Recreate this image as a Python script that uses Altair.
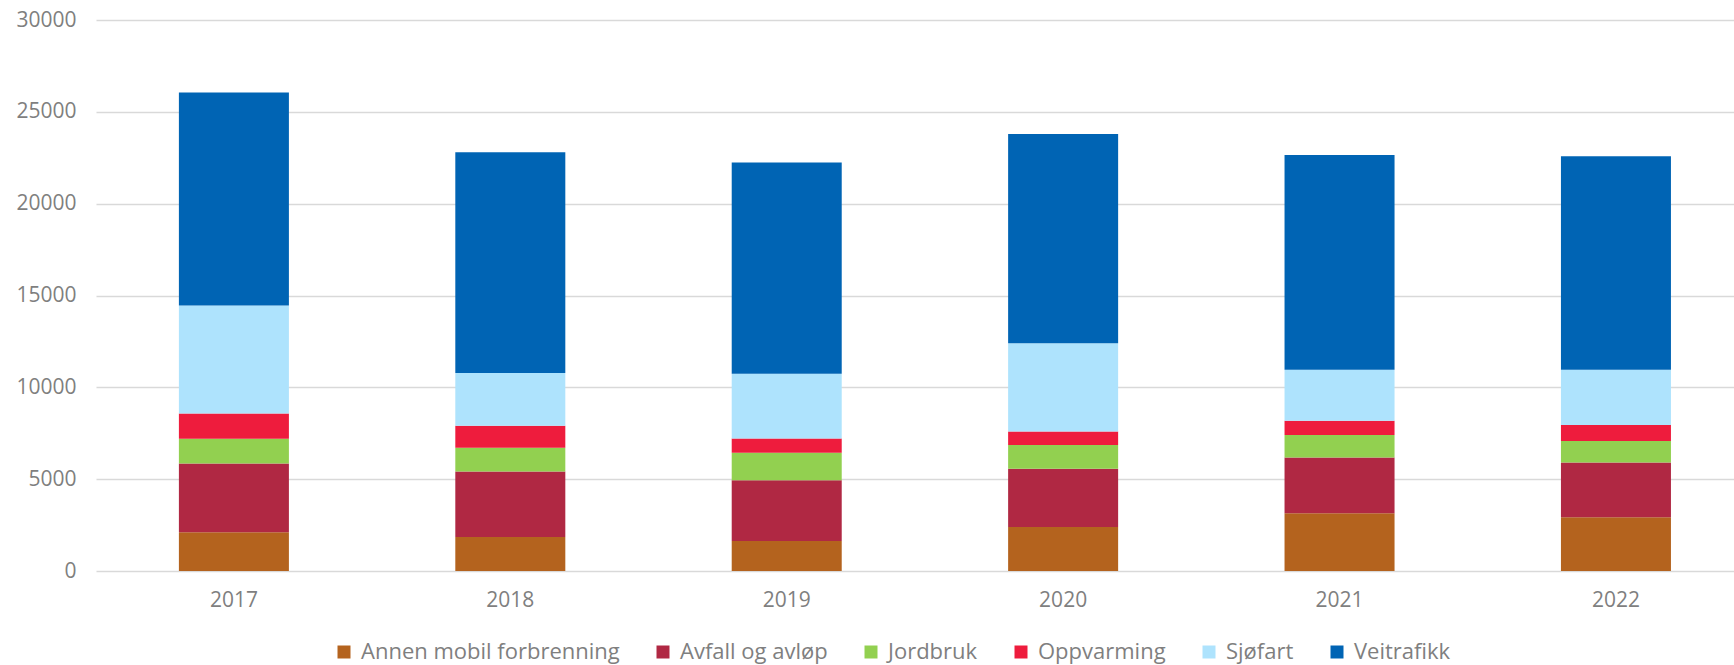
import altair as alt
import pandas as pd

years = ["2017", "2018", "2019", "2020", "2021", "2022"]
categories = ["Annen mobil forbrenning", "Avfall og avløp", "Jordbruk",
              "Oppvarming", "Sjøfart", "Veitrafikk"]
colors = ["#B4631E", "#B02843", "#92D050", "#EE1C3D", "#AEE3FD", "#0064B4"]

annen = [2110, 1855, 1636, 2400, 3145, 2927]
avfall = [3745, 3563, 3309, 3163, 3036, 2982]
jordbruk = [1345, 1291, 1491, 1291, 1219, 1163]
oppvarming = [1382, 1200, 782, 746, 781, 873]
sjofart = [5873, 2873, 3527, 4800, 2782, 3018]
veitrafikk = [11599, 12018, 11491, 11398, 11689, 11617]

series = [annen, avfall, jordbruk, oppvarming, sjofart, veitrafikk]
rows = []
for ci, (cat, vals) in enumerate(zip(categories, series)):
    for y, v in zip(years, vals):
        rows.append({"year": y, "category": cat, "value": v, "idx": ci})
df = pd.DataFrame(rows)

FONT = "Open Sans"
GRAY = "#7f7f7f"

chart = alt.Chart(df).mark_bar().encode(
    x=alt.X("year:N", title=None,
            scale=alt.Scale(paddingInner=0.602, paddingOuter=0.264, align=0.568),
            axis=alt.Axis(labelAngle=0, domain=False, ticks=False, grid=False,
                          labelFont=FONT, labelFontSize=21, labelColor=GRAY,
                          labelPadding=18)),
    y=alt.Y("value:Q", title=None, stack="zero",
            scale=alt.Scale(domain=[0, 30000], nice=False),
            axis=alt.Axis(values=[0, 5000, 10000, 15000, 20000, 25000, 30000],
                          format="d", domain=False, ticks=False,
                          gridColor="#d9d9d9", gridWidth=1.5,
                          labelFont=FONT, labelFontSize=21, labelColor=GRAY,
                          labelPadding=20)),
    color=alt.Color("category:N",
                    scale=alt.Scale(domain=categories, range=colors),
                    legend=alt.Legend(title=None, orient="none", direction="horizontal",
                                      legendX=237, legendY=621,
                                      symbolType="square", symbolSize=169,
                                      symbolStrokeWidth=0, labelOffset=6,
                                      columnPadding=32, padding=0,
                                      labelFont=FONT, labelFontSize=22,
                                      labelColor=GRAY, labelLimit=400)),
    order=alt.Order("idx:Q", sort="ascending"),
).properties(
    width=1638,
    height=551,
    autosize=alt.AutoSizeParams(type="none"),
    padding={"left": 96, "top": 20, "right": 0, "bottom": 94},
).configure_view(stroke=None)

chart.save("out.html", embed_options={"renderer": "svg", "actions": False})
